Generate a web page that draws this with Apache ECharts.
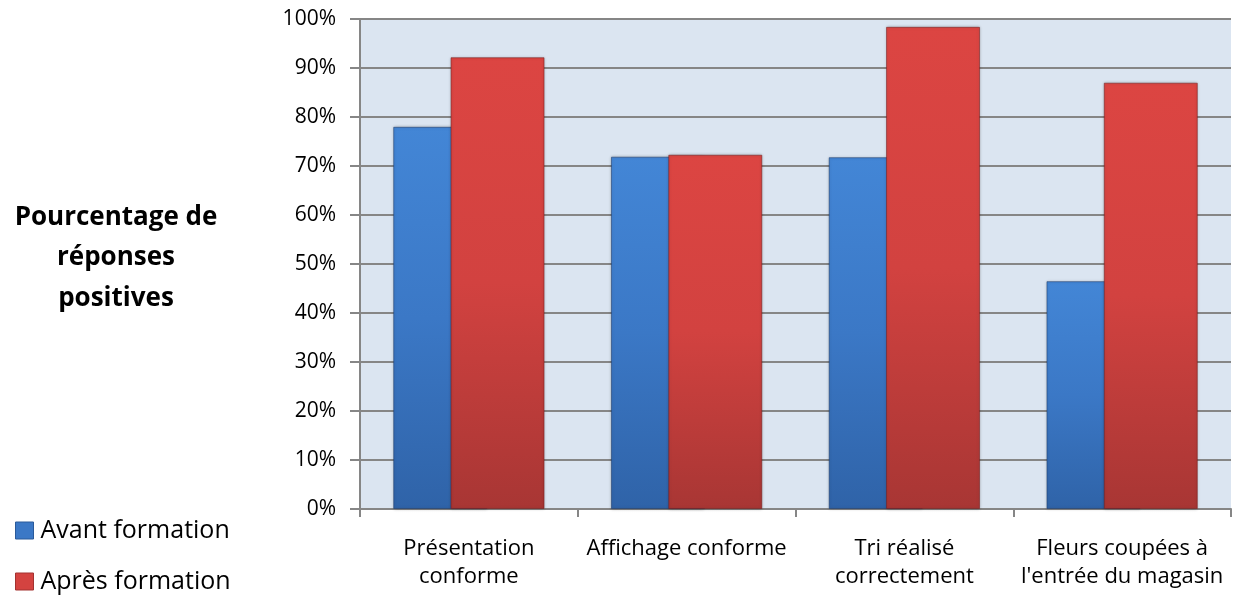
<!DOCTYPE html>
<html>
<head>
<meta charset="utf-8">
<script src="https://cdn.jsdelivr.net/npm/echarts@6/dist/echarts.min.js"></script>
<style>
  html, body { margin: 0; padding: 0; background: #ffffff; }
  #chart { width: 1242px; height: 601px; }
</style>
</head>
<body>
<div id="chart"></div>
<script>
// Survey results: share of positive answers before and after training
const categories = [
  'Présentation\nconforme',
  'Affichage conforme',
  'Tri réalisé\ncorrectement',
  'Fleurs coupées à\nl\'entrée du magasin'
];
const avantFormation = [78.0, 71.9, 71.8, 46.5];
const apresFormation = [92.2, 72.3, 98.4, 87.0];
const seriesNames = ['Avant formation', 'Après formation'];
const yTitle = 'Pourcentage de\nréponses\npositives';

const FONT = '"Open Sans", Lato, sans-serif';

function barGradient(top, mid, bottom) {
  return new echarts.graphic.LinearGradient(0, 0, 0, 1, [
    { offset: 0, color: top },
    { offset: 0.5, color: mid },
    { offset: 1, color: bottom }
  ]);
}

const chart = echarts.init(document.getElementById('chart'), null, { renderer: 'canvas' });

chart.setOption({
  backgroundColor: '#ffffff',
  animation: false,
  title: {
    text: yTitle,
    left: 111,
    top: 192,
    textAlign: 'center',
    textStyle: {
      fontFamily: FONT,
      fontSize: 26,
      fontWeight: 'bold',
      color: '#000000',
      lineHeight: 40.5
    }
  },
  legend: {
    orient: 'vertical',
    left: 15,
    top: 514,
    padding: 0,
    itemWidth: 18,
    itemHeight: 17,
    itemGap: 18,
    icon: 'rect',
    textStyle: { fontFamily: FONT, fontSize: 25, color: '#000000', lineHeight: 33, padding: [0, 0, 0, 2] },
    data: [
      { name: seriesNames[0], itemStyle: { color: '#3b78c6', borderColor: '#2a5a9a', borderWidth: 1 } },
      { name: seriesNames[1], itemStyle: { color: '#d44340', borderColor: '#a33230', borderWidth: 1 } }
    ]
  },
  grid: {
    left: 360,
    right: 11,
    top: 19,
    bottom: 92,
    show: true,
    backgroundColor: '#dbe5f1',
    borderWidth: 0
  },
  xAxis: {
    type: 'category',
    data: categories,
    axisLine: { show: true, lineStyle: { color: '#868686', width: 2 } },
    axisTick: { show: true, alignWithLabel: false, length: 8, lineStyle: { color: '#868686', width: 2 } },
    axisLabel: {
      fontFamily: FONT,
      fontSize: 22,
      color: '#000000',
      lineHeight: 28,
      margin: 26,
      interval: 0
    },
    splitLine: { show: false }
  },
  yAxis: {
    type: 'value',
    min: 0,
    max: 100,
    interval: 10,
    axisLine: { show: true, lineStyle: { color: '#868686', width: 2 } },
    axisTick: { show: true, length: 10, lineStyle: { color: '#868686', width: 2 } },
    axisLabel: {
      fontFamily: FONT,
      fontSize: 21,
      color: '#000000',
      margin: 24,
      formatter: v => v + '%'
    },
    splitLine: { show: true, lineStyle: { color: '#868686', width: 2 } }
  },
  series: [
    {
      name: seriesNames[0],
      type: 'bar',
      data: avantFormation,
      barWidth: 94,
      barGap: '-39%',
      itemStyle: {
        color: barGradient('#4386d6', '#3b78c6', '#2f63a8'),
        borderColor: 'rgba(30,60,110,0.55)',
        borderWidth: 1,
        shadowColor: 'rgba(0,0,0,0.25)',
        shadowBlur: 3
      }
    },
    {
      name: seriesNames[1],
      type: 'bar',
      data: apresFormation,
      barWidth: 94,
      barGap: '-39%',
      itemStyle: {
        color: barGradient('#dc4542', '#d24240', '#a83634'),
        borderColor: 'rgba(120,30,30,0.55)',
        borderWidth: 1,
        shadowColor: 'rgba(0,0,0,0.25)',
        shadowBlur: 3
      }
    }
  ]
});
</script>
</body>
</html>
